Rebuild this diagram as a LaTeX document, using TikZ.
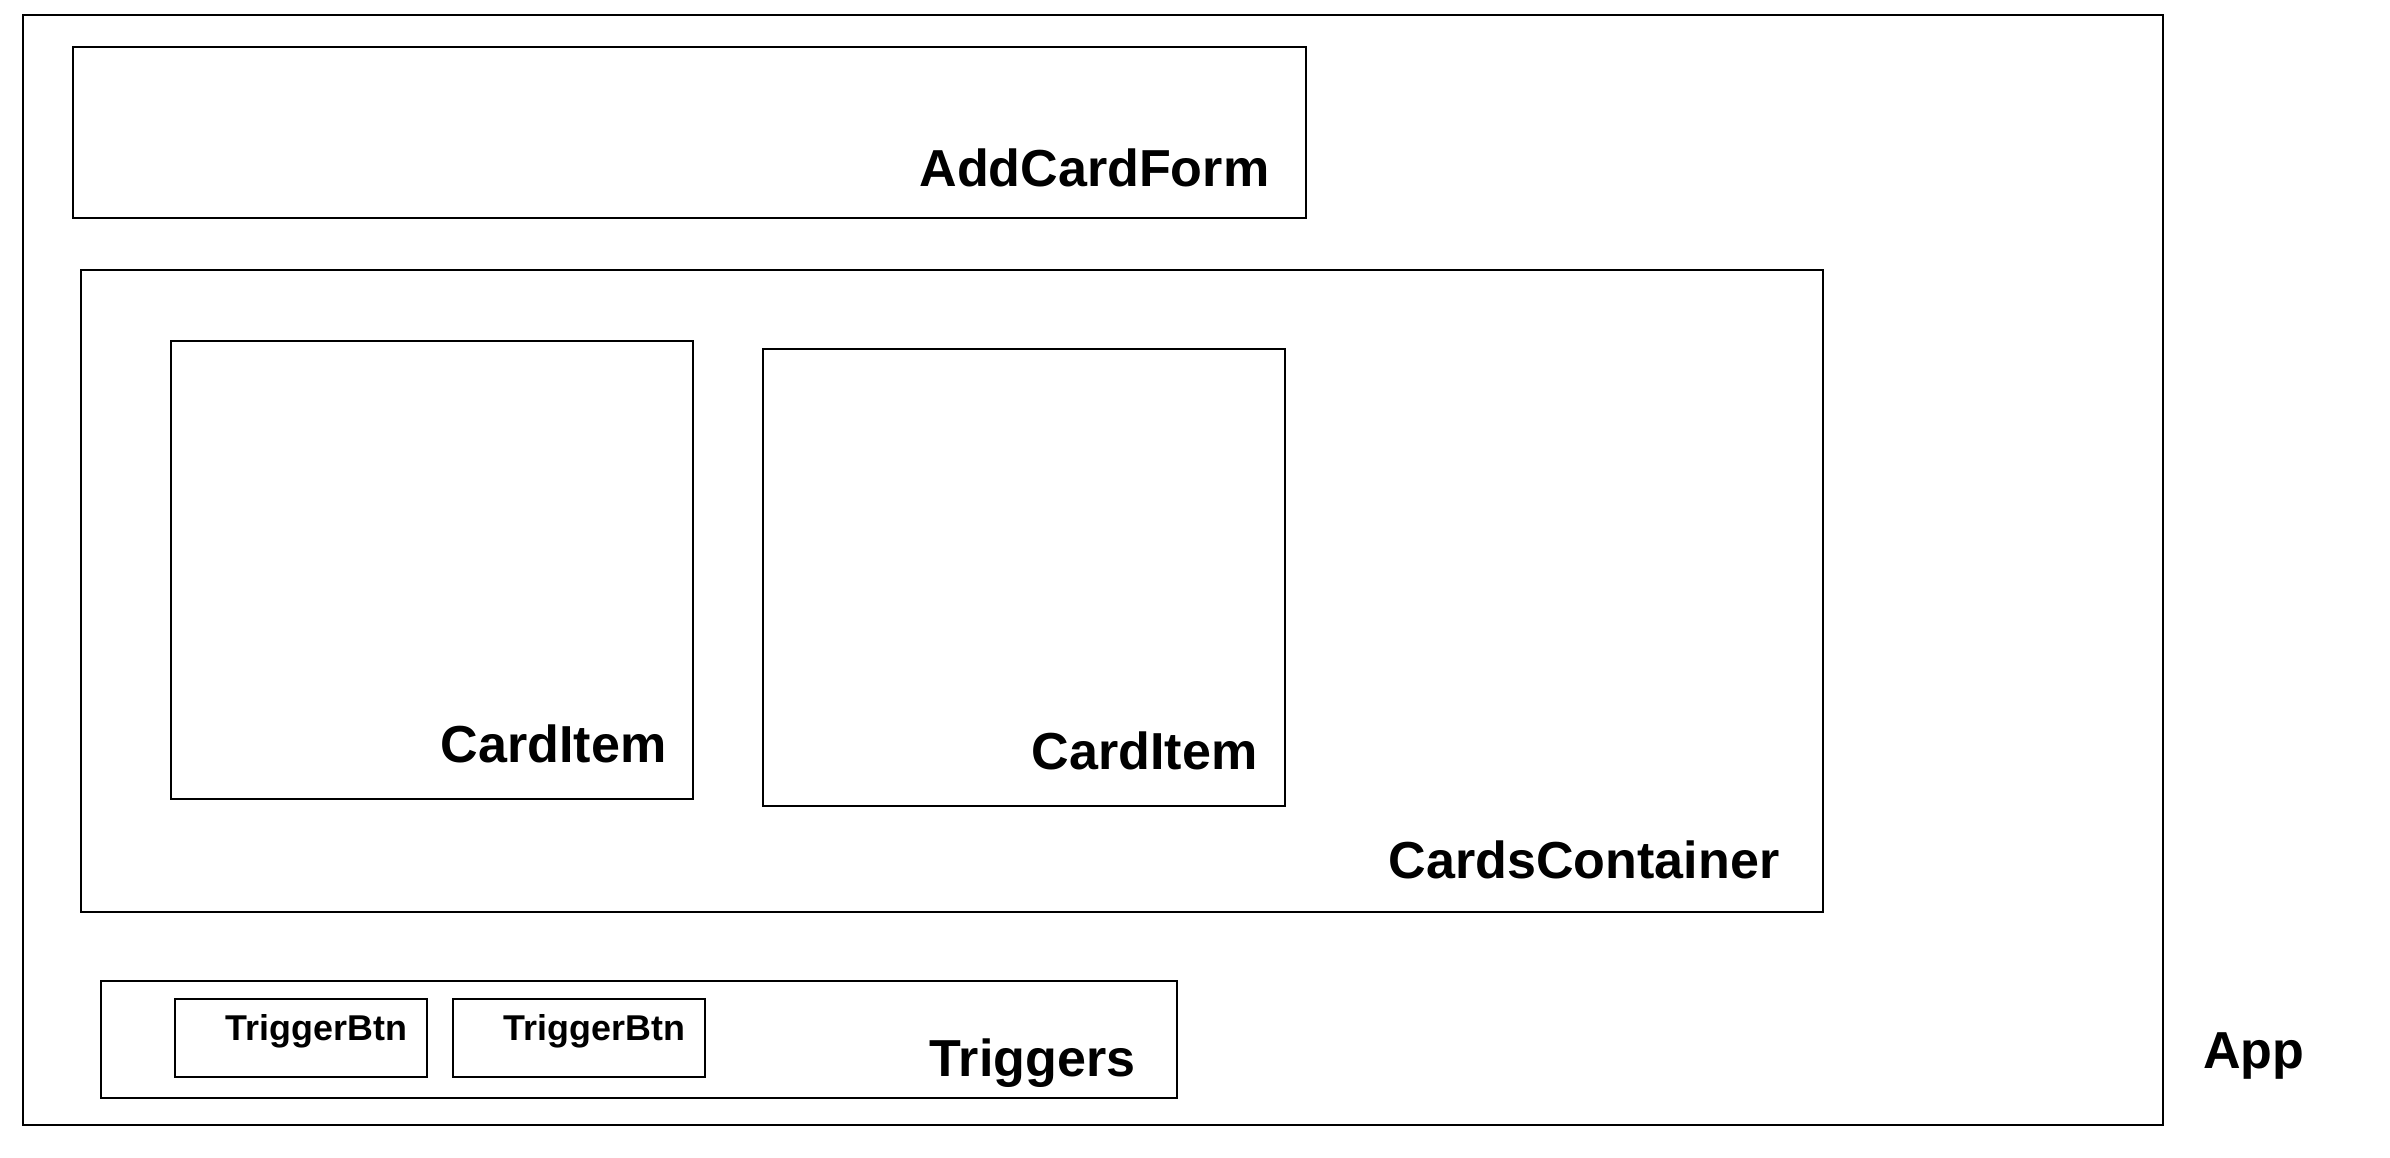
\documentclass[tikz,border=0pt]{standalone}
\usepackage{fontspec}
\setmainfont{Liberation Sans}
\usepackage{tikz}

\begin{document}
\begin{tikzpicture}[x=0.01cm,y=-0.01cm,
    box/.style={draw,line width=0.6pt},
    every node/.style={inner sep=0pt,anchor=base east,font=\fontsize{14.8}{17}\selectfont\bfseries},
    small/.style={font=\fontsize{10.2}{12}\selectfont\bfseries}]

    \useasboundingbox (0,0) rectangle (2390,1158);

    %==================== App ====================
    \draw[box] (23,15) rectangle (2163,1125);
    \node (applbl) at (2305,1068) {App};

    % AddCardForm
    \draw[box] (73,47) rectangle (1306,218);
    \node (formlbl) at (1270,187) {AddCardForm};

    %==================== CardsContainer ====================
    \draw[box] (81,270) rectangle (1823,912);
    \node (contlbl) at (1780,878) {CardsContainer};

    % Card items
    \draw[box] (171,341) rectangle (693,799);
    \node (card1) at (667,762) {CardItem};
    \draw[box] (763,349) rectangle (1285,806);
    \node (card2) at (1258,769) {CardItem};

    %==================== Triggers ====================
    \draw[box] (101,981) rectangle (1177,1098);
    \node (trglbl) at (1136,1076) {Triggers};

    % Trigger buttons
    \foreach \i/\xl/\xr in {1/175/427,2/453/705} {
      \draw[box] (\xl,999) rectangle (\xr,1077);
      \node[small] (btn\i) at (\xr-19,1040) {TriggerBtn};
    }

\end{tikzpicture}
\end{document}
